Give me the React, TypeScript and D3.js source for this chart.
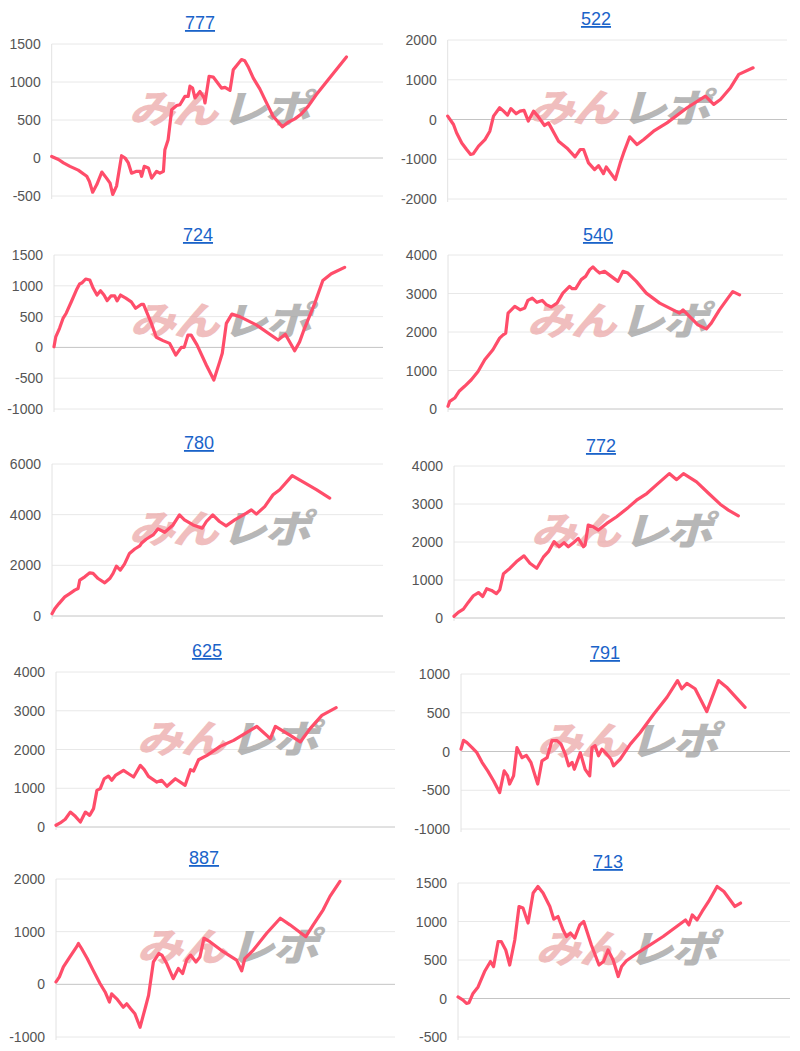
import React from "react";
import * as d3 from "d3";

// ---------- DATA ----------
const titles = ["777", "522", "724", "540", "780", "772", "625", "791", "887", "713"];

const yTicks777 = [-500, 0, 500, 1000, 1500];
const yTicks522 = [-2000, -1000, 0, 1000, 2000];
const yTicks724 = [-1000, -500, 0, 500, 1000, 1500];
const yTicks540 = [0, 1000, 2000, 3000, 4000];
const yTicks780 = [0, 2000, 4000, 6000];
const yTicks772 = [0, 1000, 2000, 3000, 4000];
const yTicks625 = [0, 1000, 2000, 3000, 4000];
const yTicks791 = [-1000, -500, 0, 500, 1000];
const yTicks887 = [-1000, 0, 1000, 2000];
const yTicks713 = [-500, 0, 500, 1000, 1500];

// x-domain end (periods shown on axis), line runs 0..100
const xDomainEnds = [112.4, 111.1, 113.2, 114.9, 119.2, 116.4, 121, 115.8, 119.4, 117.5];

const s777: [number, number][] = [
  [0, 20], [2.3, -20], [4, -65], [6.2, -110], [9, -160], [11.9, -240], [12.8, -310], [13.9, -450], [15.3, -350],
  [17, -185], [18.6, -265], [19.8, -330], [20.7, -480], [22, -370], [23.7, 30], [24.9, 0], [26, -65], [27.1, -200],
  [28.8, -175], [30, -175], [30.5, -240], [31.4, -110], [32.8, -130], [33.9, -265], [35.6, -175], [36.7, -200],
  [37.9, -175], [38.4, 110], [39.5, 240], [40.7, 635], [42.4, 690], [43.5, 700], [45.2, 810], [46.3, 810],
  [46.9, 945], [47.8, 920], [48.6, 790], [50.3, 875], [51.7, 790], [52, 725], [53.4, 1075], [54.8, 1065],
  [57.6, 920], [58.8, 930], [60.5, 890], [61.6, 1160], [62.7, 1215], [64.4, 1295], [65.5, 1280], [66.6, 1205],
  [68.4, 1050], [70.6, 910], [72.9, 725], [75.1, 550], [78.3, 410], [80.2, 470], [82.5, 515], [84.7, 580],
  [87, 680], [89.8, 835], [93.8, 1030], [100, 1330],
];

const s522: [number, number][] = [
  [0, 85], [1.9, -125], [2.9, -335], [4.6, -590], [6.2, -755], [7.5, -880], [8.4, -860], [10.1, -670],
  [12.2, -505], [13.8, -295], [15, 85], [17, 295], [18.3, 210], [19.6, 110], [20.7, 275], [22.4, 145],
  [23.7, 210], [25, 230], [26.4, -40], [28.1, 210], [29.5, 85], [31.7, -150], [33, -85], [36.3, -545],
  [39, -715], [41.7, -940], [43.4, -755], [44.5, -755], [46.1, -1090], [48.1, -1260], [49.4, -1160],
  [51, -1360], [51.9, -1195], [54.9, -1510], [56.5, -1090], [57.6, -840], [59.6, -435], [62, -630],
  [64.2, -505], [67.4, -295], [71.8, -85], [78.4, 295], [84.4, 590], [87.1, 380], [89.3, 505], [92.6, 800],
  [95.3, 1135], [100, 1300],
];

const s724: [number, number][] = [
  [0, 10], [0.6, 170], [1.9, 310], [3.1, 470], [4.2, 555], [6, 745], [7.7, 930], [8.8, 1030], [9.7, 1050],
  [10.9, 1110], [12.3, 1095], [13.5, 960], [14.8, 850], [16, 920], [17.2, 850], [18.3, 760], [19.6, 835],
  [20.9, 835], [21.7, 755], [22.9, 850], [24.7, 800], [26.6, 740], [28.1, 635], [30.1, 700], [30.8, 700],
  [33.5, 390], [35.2, 165], [37.5, 110], [39.8, 65], [41.9, -125], [43.8, 0], [44.8, 0], [46.1, 200],
  [47.2, 200], [49.2, 40], [52.4, -285], [55, -530], [57, -235], [57.9, -95], [59.3, 390], [61.2, 540],
  [63.9, 500], [69.6, 365], [77.1, 120], [79.6, 215], [82.8, -55], [84.5, 90], [86.2, 310], [89.7, 715],
  [92.5, 1085], [95.4, 1195], [100, 1300],
];

const s540: [number, number][] = [
  [0, 70], [0.6, 200], [2.3, 285], [3.8, 460], [5.7, 590], [8, 760], [10.3, 975], [12.6, 1280], [15.4, 1540],
  [17.7, 1840], [18.9, 1925], [19.8, 1970], [20.6, 2490], [22.9, 2665], [24.8, 2575], [26.3, 2620],
  [27.4, 2820], [28.9, 2880], [30.5, 2770], [32.3, 2820], [33.7, 2710], [35.4, 2650], [37.4, 2750],
  [39.4, 3010], [41.7, 3185], [42.6, 3125], [43.8, 3125], [45.7, 3360], [47.2, 3445], [48.6, 3620],
  [49.7, 3690], [50.9, 3600], [52, 3530], [53.7, 3575], [56, 3445], [58.3, 3315], [60, 3575], [61.7, 3530],
  [64.6, 3315], [68, 3010], [70.3, 2880], [72.6, 2750], [76, 2620], [79.4, 2490], [80.6, 2575], [82.9, 2400],
  [85.7, 2185], [88.6, 2080], [90.3, 2230], [93.1, 2575], [96, 2880], [97.7, 3050], [100, 2965],
];

const s780: [number, number][] = [
  [0, 90], [1, 290], [2.5, 490], [4.6, 755], [6.4, 885], [8.2, 1020], [9.4, 1085], [10, 1415], [11.8, 1545],
  [13.6, 1705], [14.8, 1680], [16.6, 1480], [19, 1310], [20.8, 1480], [22, 1680], [23.2, 1970], [24.6, 1810],
  [26.1, 2050], [27.9, 2470], [29.8, 2645], [31.6, 2765], [32.2, 2870], [33.9, 3030], [36.4, 3200],
  [38.2, 3440], [40.6, 3305], [43.6, 3595], [45.9, 3990], [47.7, 3795], [50.8, 3595], [54.1, 3465],
  [55.6, 3730], [57.9, 3990], [60.3, 3730], [62.7, 3560], [65.8, 3795], [70, 4060], [71.8, 4190],
  [73.6, 4020], [76.6, 4320], [79.6, 4785], [82, 4985], [86.5, 5540], [90.4, 5290], [95.2, 4985], [100, 4655],
];

const s772: [number, number][] = [
  [0, 45], [1.5, 150], [3.3, 235], [5, 410], [6.8, 585], [8.6, 670], [10.1, 565], [11.5, 770], [13.2, 725],
  [14.9, 640], [16.1, 745], [17.4, 1165], [19.7, 1310], [22, 1485], [24.6, 1635], [26.7, 1440], [29.1, 1310],
  [31.4, 1600], [33.2, 1745], [35.2, 2010], [37, 1875], [38.7, 1980], [40.2, 1875], [42, 1980], [43.7, 2095],
  [45.5, 1875], [46.1, 1920], [47.2, 2445], [49, 2400], [50.8, 2315], [53.7, 2490], [57.2, 2665],
  [61.3, 2910], [64.2, 3100], [67.8, 3275], [71.3, 3510], [75.7, 3800], [78.3, 3640], [80.7, 3800],
  [85.3, 3580], [89.4, 3290], [93.6, 2995], [96.5, 2840], [100, 2690],
];

const s625: [number, number][] = [
  [0, 45], [1.5, 105], [3.3, 200], [5.1, 385], [6.9, 275], [8.7, 130], [10.5, 385], [12, 300], [13.4, 475],
  [14.6, 945], [15.8, 990], [17.2, 1245], [18.7, 1315], [19.9, 1205], [21.2, 1330], [24.1, 1460],
  [25.9, 1375], [27.7, 1290], [30.1, 1590], [31.5, 1480], [33, 1305], [36, 1160], [37.7, 1205], [39.6, 1050],
  [42.6, 1245], [46.1, 1075], [48, 1480], [49.1, 1445], [50.9, 1735], [53.9, 1850], [58.6, 2080],
  [63.4, 2235], [71.7, 2595], [76.5, 2280], [78.3, 2595], [83.6, 2365], [87.2, 2195], [90.7, 2540],
  [94.9, 2880], [100, 3080],
];

const s791: [number, number][] = [
  [0, 30], [0.9, 145], [2.1, 115], [3.9, 50], [5.6, -15], [7.4, -140], [9.4, -250], [11.5, -380], [13.6, -530],
  [15.2, -250], [16.4, -315], [17.1, -420], [18.5, -315], [19.7, 50], [21.5, -80], [23, -50], [24.6, -140],
  [27, -420], [28.5, -120], [30.3, -80], [32, 140], [33.8, 140], [35.2, 95], [36.7, -35], [37.9, -185],
  [39.1, -140], [39.9, -230], [42, -15], [43.7, -230], [45.3, -315], [46.1, 50], [47.2, 75], [48.4, -55],
  [49.6, 30], [51.3, -35], [52.8, -100], [53.7, -185], [56, -100], [59.6, 95], [63.1, 245], [67.8, 480],
  [72.5, 700], [76.2, 915], [77.7, 810], [79.5, 880], [82.4, 810], [86.5, 515], [90.6, 915], [93.5, 830],
  [100, 570],
];

const s887: [number, number][] = [
  [0, 45], [1.2, 140], [2.6, 330], [4.9, 520], [7.3, 715], [7.9, 775], [9, 680], [11, 490], [13.1, 265],
  [15.5, 15], [17.3, -145], [18.8, -335], [19.6, -180], [21.4, -275], [23.7, -435], [24.9, -370],
  [26.3, -465], [27.8, -560], [29.6, -815], [31.5, -435], [32.6, -210], [34.3, 425], [36.2, 585],
  [37.3, 555], [39, 395], [41.3, 110], [43.1, 300], [44.6, 205], [46, 460], [47.4, 555], [49.3, 425],
  [50.7, 520], [52.1, 875], [54.2, 810], [58.9, 620], [63.6, 460], [65.4, 255], [66.5, 490], [69.5, 650],
  [74.2, 970], [79, 1255], [82.4, 1130], [88, 905], [90.6, 1130], [94.1, 1415], [96.5, 1670], [100, 1955],
];

const s713: [number, number][] = [
  [0, 20], [1.8, -20], [3, -65], [3.9, -55], [5.3, 65], [7.1, 150], [9.4, 350], [11.5, 480], [12.6, 415],
  [14.2, 740], [15.3, 740], [16.9, 630], [18.3, 435], [20.1, 760], [21.6, 1195], [23, 1175], [24.8, 980],
  [26.6, 1370], [28.3, 1455], [30.1, 1370], [32.5, 1195], [33.9, 1030], [35.4, 1065], [37.2, 890],
  [38.4, 805], [39.8, 850], [41.3, 785], [43.1, 955], [44.5, 1000], [47.2, 695], [49.9, 435], [51.5, 480],
  [53.1, 630], [54.9, 500], [56.7, 285], [57.9, 415], [59.6, 490], [64.3, 610], [72.6, 805], [80.5, 1020],
  [81.7, 955], [82.9, 1085], [84.6, 1020], [86.4, 1130], [88.7, 1260], [91.7, 1455], [94.1, 1390],
  [98, 1195], [100, 1240],
];

const seriesList = [s777, s522, s724, s540, s780, s772, s625, s791, s887, s713];
const tickList = [yTicks777, yTicks522, yTicks724, yTicks540, yTicks780, yTicks772, yTicks625, yTicks791, yTicks887, yTicks713];

// ---------- LAYOUT (pixel frames of each small chart) ----------
const frames = [
  { x0: 51.7, x1: 383, yTop: 44, yBot: 196, tx: 200, ty: 29 },
  { x0: 447.7, x1: 787, yTop: 40, yBot: 199, tx: 596, ty: 25 },
  { x0: 54, x1: 383, yTop: 255, yBot: 409, tx: 198, ty: 241 },
  { x0: 448, x1: 783, yTop: 255, yBot: 409, tx: 598, ty: 241 },
  { x0: 52, x1: 383, yTop: 464, yBot: 616, tx: 199, ty: 449 },
  { x0: 454, x1: 785, yTop: 466, yBot: 618, tx: 601, ty: 452 },
  { x0: 56, x1: 395, yTop: 672, yBot: 827, tx: 207, ty: 657 },
  { x0: 461, x1: 790, yTop: 674, yBot: 829, tx: 605, ty: 659 },
  { x0: 56, x1: 395, yTop: 879, yBot: 1037, tx: 204, ty: 864 },
  { x0: 458, x1: 790, yTop: 883, yBot: 1037, tx: 608, ty: 868 },
];

const LINE = "#ff4d6a";
const FONT = "'Liberation Sans', Arial, Helvetica, sans-serif";

function Panel({ i }: { i: number }) {
  const f = frames[i];
  const ticks = tickList[i];
  const data = seriesList[i];
  const x = d3.scaleLinear().domain([0, xDomainEnds[i]]).range([f.x0, f.x1]);
  const y = d3.scaleLinear().domain([ticks[0], ticks[ticks.length - 1]]).range([f.yBot, f.yTop]);
  const line = d3.line<[number, number]>().x((d) => x(d[0])).y((d) => y(d[1])).curve(d3.curveLinear);
  const cx = (f.x0 + f.x1) / 2;
  const cy = f.yTop + 0.43 * (f.yBot - f.yTop);
  return (
    <g>
      <text x={f.tx} y={f.ty} textAnchor="middle" fontFamily={FONT} fontSize={18} fill="#1a63c9" textDecoration="underline">
        {titles[i]}
      </text>
      {ticks.map((t) => (
        <g key={t}>
          <line x1={f.x0} x2={f.x1} y1={y(t)} y2={y(t)} stroke={t === 0 ? "#c4c4c4" : "#e8e8e8"} strokeWidth={1} />
          <text x={f.x0 - 11} y={y(t) + 5} textAnchor="end" fontFamily={FONT} fontSize={14} fill="#555">
            {t}
          </text>
        </g>
      ))}
      <line x1={f.x0} x2={f.x0} y1={f.yTop} y2={f.yBot + 3} stroke="#e2e2e2" strokeWidth={1} />
      <g transform={`translate(${cx + 1},${cy + 14}) skewX(-16) scale(1.18,1)`} fontFamily="'Noto Sans CJK JP', sans-serif" fontWeight={900} fontSize={39}>
        <text x={-2} y={0} textAnchor="end" fill="#eba6a6" opacity={0.72} letterSpacing={-2}>
          みん
        </text>
        <text x={2} y={0} textAnchor="start" fill="#9c9c9c" opacity={0.72} letterSpacing={-2}>
          レポ
        </text>
      </g>
      <path d={line(data) || ""} fill="none" stroke={LINE} strokeWidth={3.2} strokeLinejoin="round" strokeLinecap="round" />
    </g>
  );
}

export default function App() {
  return (
    <svg width={800} height={1051} style={{ position: "absolute", left: 0, top: 0, background: "#fff" }}>
      <rect width={800} height={1051} fill="#fff" />
      {titles.map((_, i) => (
        <Panel key={i} i={i} />
      ))}
    </svg>
  );
}
